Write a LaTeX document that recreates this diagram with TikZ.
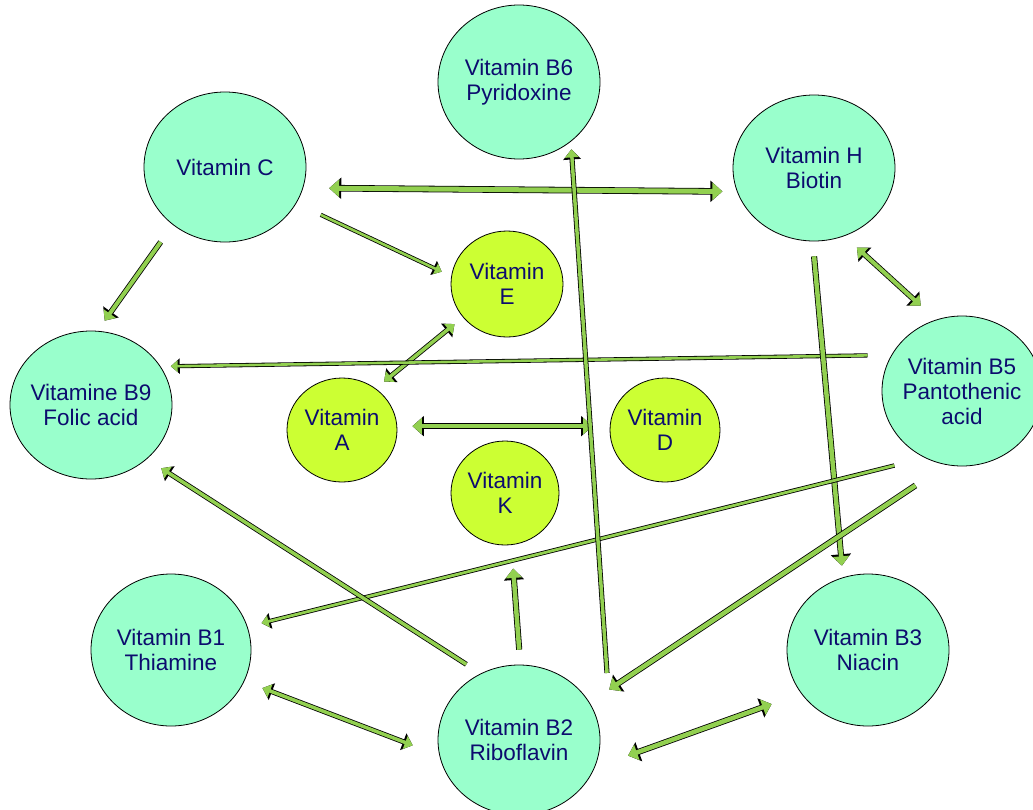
\documentclass[tikz,border=0pt]{standalone}
\usepackage{fontspec}
\setmainfont{Liberation Sans}
\usetikzlibrary{shapes.geometric,arrows.meta}
\definecolor{watercol}{HTML}{99FFCC}
\definecolor{fatcol}{HTML}{CCFF33}
\definecolor{linkgreen}{HTML}{92D050}
\definecolor{inkblue}{HTML}{0C0C6E}
\tikzset{
  vit/.style={ellipse, draw=black, line width=0.8pt, text=inkblue, align=center,
    inner sep=-10pt, font=\fontsize{22.5}{25}\selectfont},
  bvit/.style={vit, fill=watercol, minimum width=162pt, minimum height=150pt},
  fvit/.style={vit, fill=fatcol, minimum width=110pt, minimum height=104pt},
  link/.style={draw=black, line width=#1+1.6pt,
    postaction={draw=linkgreen, line width=#1}},
}
\begin{document}
\begin{tikzpicture}[x=1pt, y=-1pt, >={Triangle[length=3.5pt 1.3, width=5pt 2.4]}]
\useasboundingbox (0,0) rectangle (1033,809);

% water soluble ones
\node[bvit, minimum height=154pt] (B6) at (519,82) {Vitamin B6\\Pyridoxine};
\node[bvit] (C) at (225,167) {Vitamin C};
\node[bvit, minimum height=146pt] (H) at (814,168) {Vitamin H\\Biotin};
\node[bvit, minimum height=148pt] (B9) at (91,405) {Vitamine B9\\Folic acid};
\node[bvit, minimum width=160pt] (B5) at (962,391) {Vitamin B5\\Pantothenic\\acid};
\node[bvit, minimum width=160pt, minimum height=152pt] (B1) at (171,650) {Vitamin B1\\Thiamine};
\node[bvit] (B2) at (519,740) {Vitamin B2\\Riboflavin};
\node[bvit, minimum height=152pt] (B3) at (868,650) {Vitamin B3\\Niacin};

% fat soluble ones
\node[fvit, minimum width=112pt, minimum height=106pt] (E) at (507,284) {Vitamin\\E};
\node[fvit] (A) at (342,430) {Vitamin\\A};
\node[fvit] (D) at (665,430) {Vitamin\\D};
\node[fvit, minimum width=108pt] (K) at (505,493) {Vitamin\\K};

\coordinate (B2top) at (607,673);

% links
\draw[link=5pt, <->, shorten <=26pt, shorten >=14.5pt] (C.-15) -- (H.197);
\draw[link=2.6pt, ->, shorten <=27pt, shorten >=10.5pt] (C.-27) -- (E.172);
\draw[link=4pt, ->, shorten <=21pt, shorten >=12.5pt] (C.-132) -- (B9.85);
\draw[link=3.5pt, <->, shorten <=10.8pt, shorten >=10.8pt] (E.-143) -- (A.51);
\draw[link=4.5pt, <->, shorten <=15.2pt, shorten >=17.2pt] (A.4) -- (D.176);
\draw[link=2.6pt, ->, shorten <=23.8pt, shorten >=10.2pt] (B5.153) -- (B9.29);
\draw[link=4pt, <->, shorten <=17pt, shorten >=20.6pt] (H.-66) -- (B5.110);
\draw[link=4.5pt, ->, shorten <=15pt, shorten >=11.7pt] (H.-91) -- (B3.109);
\draw[link=2.8pt, ->, shorten <=31.5pt, shorten >=14.4pt] (B5.-119) -- (B1.17);
\draw[link=4.5pt, ->, shorten <=37pt, shorten >=23.5pt] (B5.-102) -- (B2.28);
\draw[link=3.5pt, ->, shorten >=7.7pt] (B2top) -- (B6.-49);
\draw[link=3.5pt, ->, shorten <=17pt, shorten >=17pt] (B2.120) -- (B9.-44);
\draw[link=4.5pt, ->, shorten <=15pt, shorten >=23.6pt] (B2.89) -- (K.-83);
\draw[link=3.5pt, <->, shorten <=19.3pt, shorten >=28.5pt] (B1.-23) -- (B2.191);
\draw[link=4.5pt, <->, shorten <=35.4pt, shorten >=31.3pt] (B2.-20) -- (B3.-147);
\end{tikzpicture}
\end{document}
